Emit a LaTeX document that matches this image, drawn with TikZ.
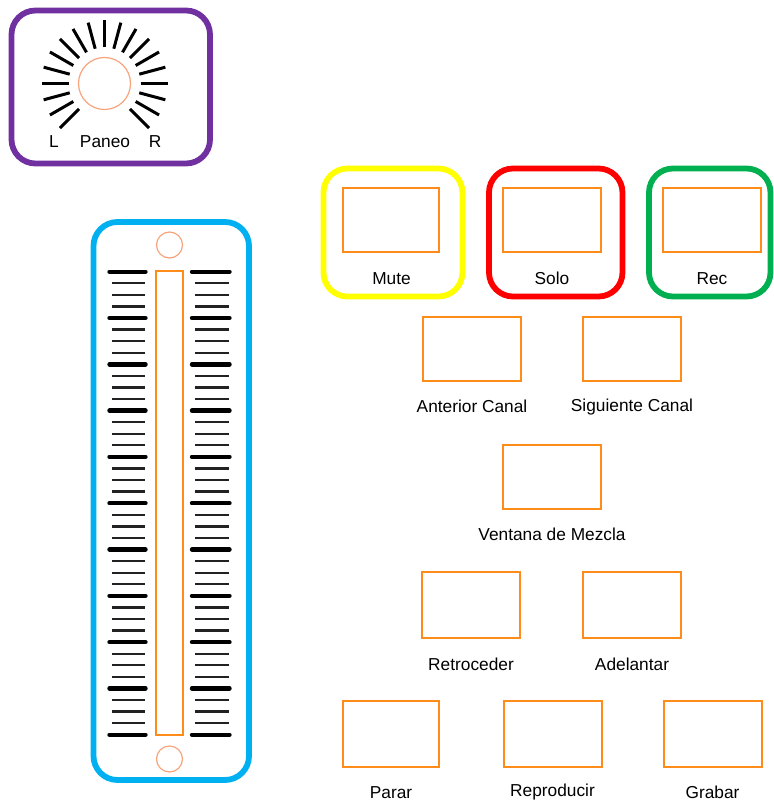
\documentclass[tikz,border=0pt]{standalone}
\usepackage{fontspec}
\setmainfont{Liberation Sans}
\definecolor{panpurple}{HTML}{7030A0}
\definecolor{faderblue}{HTML}{00B0F0}
\definecolor{muteyellow}{HTML}{FFFF00}
\definecolor{solored}{HTML}{FF0000}
\definecolor{recgreen}{HTML}{00B050}
\definecolor{btnorange}{HTML}{FF8C1A}
\definecolor{knoborange}{HTML}{F7A47C}
\definecolor{tickgray}{HTML}{222222}
\begin{document}
\begin{tikzpicture}[x=1pt,y=-1pt,
  frame/.style={line width=5.8pt, rounded corners=24pt},
  btn/.style={draw=btnorange, line width=1.9pt, rectangle, minimum width=98pt, minimum height=64pt, inner sep=0pt},
  knob/.style={draw=knoborange, line width=1.2pt, circle, inner sep=0pt},
  lbl/.style={font=\fontsize{17.3pt}{19pt}\selectfont, text=black, anchor=base, inner sep=0pt},
  ray/.style={line width=3pt, black},
  majortick/.style={line width=4.4pt, black, line cap=round},
  minortick/.style={line width=2.3pt, tickgray}]
\useasboundingbox (0,0) rectangle (773,802);

% pan knob
\draw[frame, panpurple] (11.5,10.5) rectangle (210,163.5);
\node[knob, minimum size=52pt] (pan) at (104.5,83.5) {};
\foreach \a in {-225,-210,...,45}
  \draw[ray] (pan.center) ++(\a:36) -- ++(\a:27);
\node[lbl] (panL) at (54,148) {L};
\node[lbl] (panlabel) at (105,148) {Paneo};
\node[lbl] (panR) at (155,148) {R};

% fader
\draw[frame, faderblue] (93.5,222) rectangle (249,780);
\node[knob, minimum size=26pt] (fadertop) at (169.5,245) {};
\node[knob, minimum size=26pt] (faderbot) at (169.5,759) {};
\node[draw=btnorange, line width=1.6pt, rectangle, inner sep=0pt,
  minimum width=27pt, minimum height=464pt] (slot) at (169.5,503) {};
\foreach \k in {0,...,40}{
  \pgfmathsetmacro\ty{271.7+11.575*\k}
  \pgfmathtruncatemacro\m{mod(\k,4)}
  \ifnum\m=0
    \draw[majortick] (109.5,\ty) -- (145.5,\ty) (192,\ty) -- (229.5,\ty);
  \else
    \draw[minortick] (112,\ty) -- (145,\ty) (195,\ty) -- (228.5,\ty);
  \fi
}

% channel buttons
\draw[frame, muteyellow] (323.5,168.5) rectangle (462.5,296.5);
\draw[frame, solored] (489,168.5) rectangle (622.5,296.5);
\draw[frame, recgreen] (649,168.5) rectangle (770.5,296.5);
\node[btn, minimum width=96pt] (mute) at (391,220) {};
\node[btn] (solo) at (552,220) {};
\node[btn] (rec) at (712,220) {};
\node[lbl] (mutel) at (391.5,284) {Mute};
\node[lbl] (solol) at (552,284) {Solo};
\node[lbl] (recl) at (712,284) {Rec};

% navigation
\node[btn] (prev) at (472,349) {};
\node[btn] (next) at (632,349) {};
\node[lbl] (prevl) at (472,412.5) {Anterior Canal};
\node[lbl] (nextl) at (632,411) {Siguiente Canal};
\node[btn] (mixer) at (552,477) {};
\node[lbl] (mixerl) at (552,540.5) {Ventana de Mezcla};

% transport
\node[btn, minimum height=66pt] (rew) at (471,605) {};
\node[btn, minimum height=66pt] (ffw) at (632,605) {};
\node[lbl] (rewl) at (471,670) {Retroceder};
\node[lbl] (ffwl) at (632,670) {Adelantar};
\node[btn, minimum width=96pt, minimum height=66pt] (stop) at (391,734) {};
\node[btn, minimum height=66pt] (play) at (553,734) {};
\node[btn, minimum height=66pt] (record) at (713,734) {};
\node[lbl] (stopl) at (391,798) {Parar};
\node[lbl] (playl) at (552.5,796) {Reproducir};
\node[lbl] (recordl) at (712.5,798.5) {Grabar};
\end{tikzpicture}
\end{document}
